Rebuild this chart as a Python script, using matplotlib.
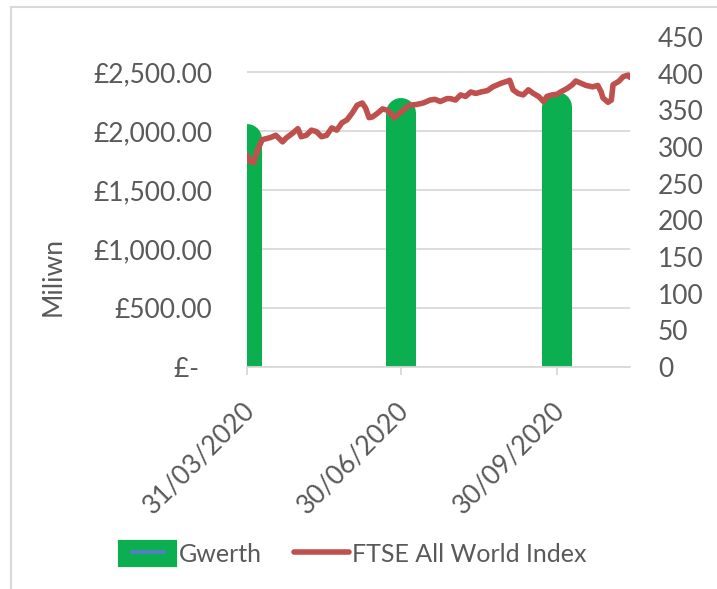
import pandas as pd
import matplotlib.pyplot as plt
import matplotlib.dates as mdates
import matplotlib.patches as mpatches
import matplotlib.transforms as mtransforms
from matplotlib.lines import Line2D
from matplotlib.legend_handler import HandlerTuple

# quarter-end values (left axis, £ million)
quarter_dates = ["2020-03-31", "2020-06-30", "2020-09-30"]
gwerth = [1935, 2155, 2206]

# FTSE All World Index (right axis)
ftse_dates = [
    "2020-03-31", "2020-04-02", "2020-04-04", "2020-04-06", "2020-04-09", "2020-04-14",
    "2020-04-17", "2020-04-21", "2020-04-23", "2020-04-27", "2020-04-30", "2020-05-02",
    "2020-05-05", "2020-05-08", "2020-05-11", "2020-05-14", "2020-05-17", "2020-05-20",
    "2020-05-23", "2020-05-26", "2020-05-29", "2020-06-01", "2020-06-04", "2020-06-07",
    "2020-06-09", "2020-06-11", "2020-06-13", "2020-06-16", "2020-06-19", "2020-06-22",
    "2020-06-26", "2020-06-29", "2020-07-02", "2020-07-05", "2020-07-09", "2020-07-13",
    "2020-07-17", "2020-07-20", "2020-07-23", "2020-07-27", "2020-07-29", "2020-08-01",
    "2020-08-04", "2020-08-07", "2020-08-10", "2020-08-13", "2020-08-16", "2020-08-20",
    "2020-08-23", "2020-08-28", "2020-09-01", "2020-09-02", "2020-09-04", "2020-09-07",
    "2020-09-10", "2020-09-13", "2020-09-16", "2020-09-19", "2020-09-22", "2020-09-24",
    "2020-09-27", "2020-09-30", "2020-10-02", "2020-10-06", "2020-10-09", "2020-10-11",
    "2020-10-14", "2020-10-17", "2020-10-21", "2020-10-24", "2020-10-26", "2020-10-27",
    "2020-10-30", "2020-11-01", "2020-11-02", "2020-11-05", "2020-11-06", "2020-11-08",
    "2020-11-11", "2020-11-12",
]
ftse = [
    289, 280, 279, 295, 310, 313,
    316, 307, 312, 319, 325, 314,
    316, 323, 321, 314, 316, 326,
    323, 333, 337, 346, 357, 360,
    353, 340, 341, 346, 352, 350,
    340, 346, 352, 357, 358, 360,
    364, 365, 362, 366, 366, 364,
    371, 369, 375, 373, 375, 377,
    382, 387, 390, 391, 378, 373,
    371, 378, 373, 369, 362, 369,
    371, 372, 375, 380, 385, 390,
    387, 384, 382, 384, 375, 367,
    361, 364, 385, 389, 391, 396,
    398, 395,
]

tick_dates = ["2020-03-31", "2020-06-30", "2020-09-30"]
left_ticks = [0, 500, 1000, 1500, 2000, 2500]
left_labels = ["£-  ", "£500.00", "£1,000.00", "£1,500.00", "£2,000.00", "£2,500.00"]

green = "#0BAF50"
red = "#C0504D"
blue = "#4F81BD"
grey_text = "#595959"
grey_line = "#D9D9D9"

plt.rcParams["font.family"] = ["Lato", "DejaVu Sans"]
fs = 19

fig = plt.figure(figsize=(7.17, 5.89), dpi=100)
ax = fig.add_axes([247 / 717, 1 - 367 / 589, (630 - 247) / 717, (367 - 37) / 589])
ax2 = ax.twinx()

qd = pd.to_datetime(quarter_dates)
for d, v in zip(qd, gwerth):
    ax.plot([d, d], [0, v], color=green, lw=21.6, solid_capstyle="round", zorder=2)

ax2.plot(pd.to_datetime(ftse_dates), ftse, color=red, lw=4,
         solid_joinstyle="round", solid_capstyle="round")

ax.set_xlim(pd.Timestamp("2020-03-31"), pd.Timestamp("2020-11-12"))
ax.set_ylim(0, 2800)
ax2.set_ylim(0, 450)

ax.set_yticks(left_ticks)
ax.set_yticklabels(left_labels)
ax2.set_yticks(range(0, 451, 50))
ax.set_xticks(pd.to_datetime(tick_dates))
ax.xaxis.set_major_formatter(mdates.DateFormatter("%d/%m/%Y"))

ax.grid(axis="y", color=grey_line, lw=1.3, zorder=0)
ax.set_axisbelow(True)
for a in (ax, ax2):
    for s in ("top", "left", "right"):
        a.spines[s].set_visible(False)
    a.spines["bottom"].set_color(grey_line)
    a.spines["bottom"].set_linewidth(1.3)
ax2.spines["bottom"].set_visible(False)

ax.tick_params(axis="y", length=0, pad=25, labelsize=fs, labelcolor=grey_text)
ax2.tick_params(axis="y", length=0, pad=20, labelsize=fs, labelcolor=grey_text)
ax.tick_params(axis="x", length=6, width=1.3, color=grey_line, pad=22,
               labelsize=fs, labelcolor=grey_text)
offset = mtransforms.ScaledTranslation(4 / 100, 0, fig.dpi_scale_trans)
for lbl in ax.get_xticklabels():
    lbl.set_rotation(45)
    lbl.set_ha("right")
    lbl.set_va("center")
    lbl.set_rotation_mode("anchor")
    lbl.set_transform(lbl.get_transform() + offset)

fig.text(53 / 717, 1 - 276 / 589, "Miliwn", rotation=90, ha="center", va="center",
         fontsize=fs, color=grey_text)

# legend
h_gwerth = (mpatches.FancyBboxPatch((0, 0), 1, 1, boxstyle="round,pad=0,rounding_size=0.2",
                                    facecolor=green, edgecolor=green, linewidth=3),
            Line2D([], [], linestyle="none", marker="_", markersize=26,
                   markeredgewidth=3, color=blue))
h_ftse = Line2D([], [], color=red, lw=4, solid_capstyle="round")
fig.legend([h_gwerth, h_ftse], ["Gwerth", "FTSE All World Index"],
           handler_map={tuple: HandlerTuple(ndivide=1)},
           loc="center", bbox_to_anchor=(0.493, 1 - 554 / 589), ncol=2, frameon=False,
           fontsize=18, labelcolor=grey_text, handlelength=2.2, handleheight=1.05,
           handletextpad=0.12, columnspacing=1.3, borderpad=0)

# chart frame, cut off at right and bottom
fig.add_artist(Line2D([11 / 717, 11 / 717], [0, 1 - 7 / 589], transform=fig.transFigure,
                      color=grey_line, lw=1.5))
fig.add_artist(Line2D([11 / 717, 1], [1 - 7 / 589, 1 - 7 / 589], transform=fig.transFigure,
                      color=grey_line, lw=1.5))

fig.savefig("out.png", dpi=100)
